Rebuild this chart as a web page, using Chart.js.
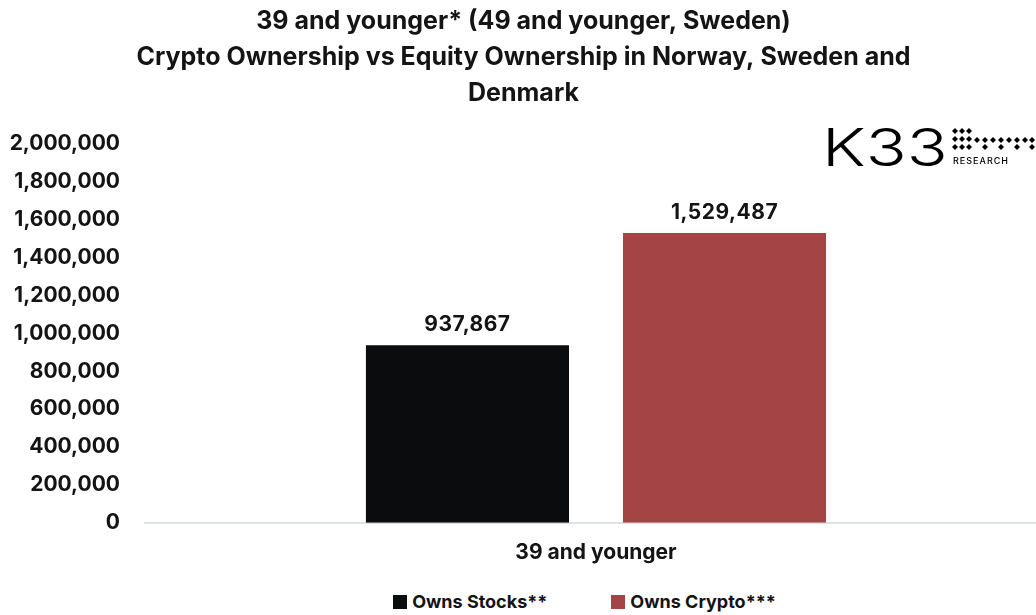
<!DOCTYPE html>
<html>
<head>
<meta charset="utf-8">
<script src="https://cdn.jsdelivr.net/npm/chart.js@4/dist/chart.umd.min.js"></script>
<style>
  html, body { margin: 0; padding: 0; background: #fff; overflow: hidden; }
  #wrap { width: 1047px; height: 582px; position: relative; }
  #legend { width: 925px; padding-left: 122px; display: flex; justify-content: center; gap: 64px;
            font: 700 18px Inter, "Open Sans", sans-serif; color: #141414; margin-top: 9px; }
  #legend span.item { display: flex; align-items: center; }
  #legend span.box { width: 14px; height: 14px; display: inline-block; margin-right: 5px; }
</style>
</head>
<body>
<div id="wrap"><canvas id="ownershipChart"></canvas></div>
<div id="legend"></div>
<script>
// data
const categories = ["39 and younger"];
const seriesNames = ["Owns Stocks**", "Owns Crypto***"];
const stocks = [937867];
const crypto = [1529487];
const yTicks = [0, 200000, 400000, 600000, 800000, 1000000, 1200000, 1400000, 1600000, 1800000, 2000000];
const colors = ["#0b0c0e", "#a54444"];

const FONT = "Inter, 'Open Sans', sans-serif";
const fmt = (v) => v.toLocaleString("en-US");

// value labels above bars
const barLabels = {
    id: "barLabels",
    afterDatasetsDraw(chart) {
        const ctx = chart.ctx;
        ctx.save();
        ctx.font = "700 21px " + FONT;
        ctx.letterSpacing = "0.5px";
        ctx.fillStyle = "#141414";
        ctx.textAlign = "center";
        ctx.textBaseline = "middle";
        chart.data.datasets.forEach((ds, i) => {
            chart.getDatasetMeta(i).data.forEach((bar, j) => {
                ctx.fillText(fmt(ds.data[j]), bar.x, bar.y - 20);
            });
        });
        ctx.restore();
    },
};

// K33 Research logo, top right
const logo = {
    id: "logo",
    afterDraw(chart) {
        const ctx = chart.ctx;
        ctx.save();
        ctx.fillStyle = "#000";
        ctx.font = "300 52px " + FONT;
        ctx.textBaseline = "alphabetic";
        ctx.textAlign = "left";
        ctx.translate(822, 166);
        ctx.scale(1.3, 1);
        ctx.fillText("K33", 0, 0);
        ctx.restore();

        ctx.save();
        ctx.fillStyle = "#000";
        const diamond = (x, y) => {
            ctx.beginPath();
            ctx.moveTo(x, y - 3); ctx.lineTo(x + 3, y); ctx.lineTo(x, y + 3); ctx.lineTo(x - 3, y);
            ctx.closePath();
            ctx.fill();
        };
        [955, 962, 969].forEach((x) => [131, 139, 147].forEach((y) => diamond(x, y)));
        [977, 985, 993, 1001, 1009, 1017, 1025, 1032].forEach((x, k) => {
            diamond(x, 140);
            if (k % 2 === 1) diamond(x, 147);
        });
        ctx.font = "500 9px " + FONT;
        ctx.letterSpacing = "1px";
        ctx.textBaseline = "alphabetic";
        ctx.fillText("RESEARCH", 953, 164);
        ctx.restore();
    },
};

const chart = new Chart(document.getElementById("ownershipChart"), {
    type: "bar",
    data: {
        labels: categories,
        datasets: [
            { label: seriesNames[0], data: stocks, backgroundColor: colors[0] },
            { label: seriesNames[1], data: crypto, backgroundColor: colors[1] },
        ],
    },
    options: {
        responsive: true,
        maintainAspectRatio: false,
        animation: false,
        categoryPercentage: 0.57,
        barPercentage: 0.79,
        layout: { padding: { left: 0, right: 0, top: 0, bottom: 8 } },
        plugins: {
            title: {
                display: true,
                text: [
                    "39 and younger* (49 and younger, Sweden)",
                    "Crypto Ownership vs Equity Ownership in Norway, Sweden and",
                    "Denmark",
                ],
                color: "#141414",
                font: { family: FONT, size: 25, weight: "700", lineHeight: 1.44 },
                padding: { top: 3, bottom: 33 },
            },
            legend: { display: false },
            tooltip: { enabled: false },
        },
        scales: {
            x: {
                grid: { display: false },
                border: { display: true, color: "#e0e3e3", width: 2 },
                ticks: {
                    color: "#141414",
                    font: { family: FONT, size: 21, weight: "700" },
                    padding: 9,
                },
            },
            y: {
                min: 0,
                max: 2000000,
                afterFit(scale) { scale.width = 145; },
                afterBuildTicks(scale) { scale.ticks = yTicks.map((v) => ({ value: v })); },
                grid: { display: false, drawTicks: false },
                border: { display: false },
                ticks: {
                    color: "#141414",
                    font: { family: FONT, size: 21, weight: "700" },
                    padding: 25,
                    callback: (v) => fmt(v),
                },
            },
        },
    },
    plugins: [barLabels, logo],
});

// legend built from the datasets
const legendEl = document.getElementById("legend");
chart.data.datasets.forEach((ds) => {
    const item = document.createElement("span");
    item.className = "item";
    const box = document.createElement("span");
    box.className = "box";
    box.style.background = ds.backgroundColor;
    item.appendChild(box);
    item.appendChild(document.createTextNode(ds.label));
    legendEl.appendChild(item);
});
</script>
</body>
</html>
